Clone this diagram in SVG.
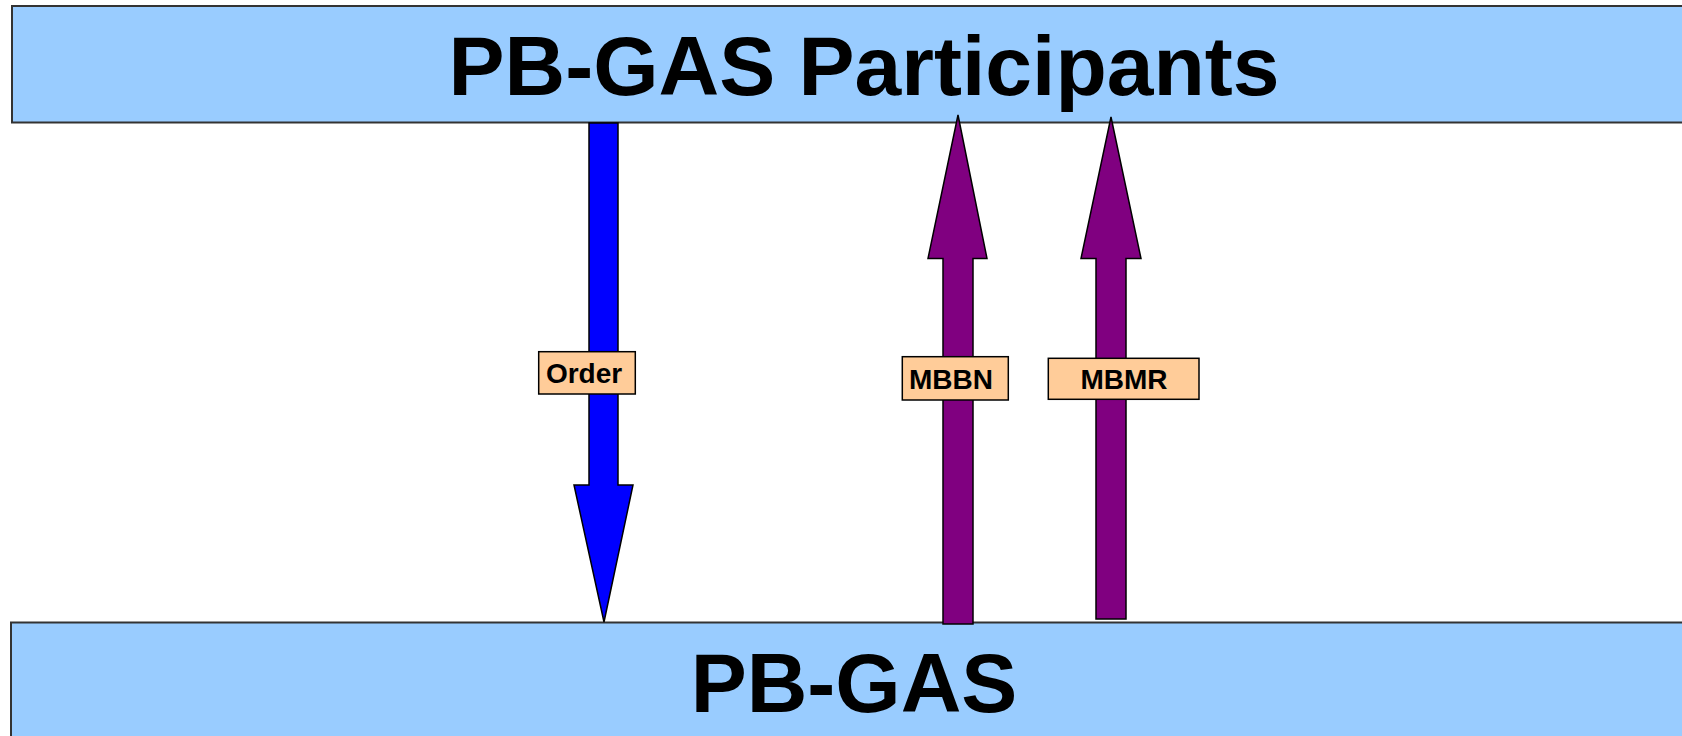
<svg xmlns="http://www.w3.org/2000/svg" width="1682" height="736" viewBox="0 0 1682 736">
<style>
.box{fill:#99CCFF;stroke:#333333;stroke-width:2}
.title{font-family:"Liberation Sans",Arial,sans-serif;font-weight:bold;font-size:84px;fill:#000;text-anchor:middle}
.arrow{stroke:#000;stroke-width:1.5;stroke-linejoin:miter}
.lbl{fill:#FFCC99;stroke:#000;stroke-width:1.5}
.lt{font-family:"Liberation Sans",Arial,sans-serif;font-weight:bold;font-size:28px;fill:#000;text-anchor:middle}
</style>
<rect width="1682" height="736" fill="#fff"/>
<g id="participants">
<rect class="box" x="12" y="6" width="1690" height="116.5"/>
<text class="title" x="864" y="95">PB-GAS Participants</text>
</g>
<g id="pbgas">
<rect class="box" x="11" y="622.5" width="1690" height="130"/>
<text class="title" x="854" y="711.5">PB-GAS</text>
</g>
<g id="connectors">
<polygon class="arrow" fill="#0000FF" points="589,123 618,123 618,485 633,485 604,622 574,485 589,485"/>
<polygon class="arrow" fill="#800080" points="958,115 987,258.5 973,258.5 973,624 943,624 943,258.5 928,258.5"/>
<polygon class="arrow" fill="#800080" points="1111,117 1141,258.5 1126,258.5 1126,619 1096,619 1096,258.5 1081,258.5"/>
</g>
<g id="label-order">
<rect class="lbl" x="538.7" y="351.7" width="96.6" height="42.3"/>
<text class="lt" x="584" y="383">Order</text>
</g>
<g id="label-mbbn">
<rect class="lbl" x="902.3" y="356.7" width="106" height="43.3"/>
<text class="lt" x="951" y="388.5">MBBN</text>
</g>
<g id="label-mbmr">
<rect class="lbl" x="1048.3" y="358.3" width="150.7" height="41"/>
<text class="lt" x="1124" y="388.5">MBMR</text>
</g>
</svg>
